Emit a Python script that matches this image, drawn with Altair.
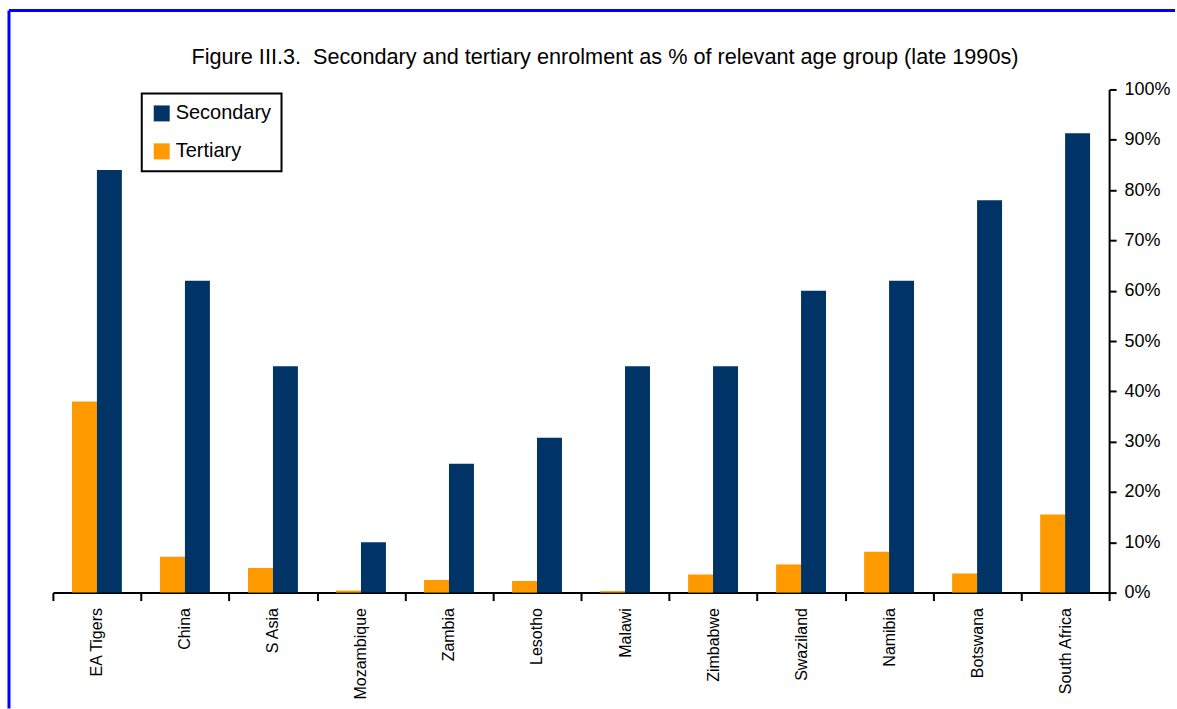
import altair as alt
import pandas as pd

categories = ["EA Tigers", "China", "S Asia", "Mozambique", "Zambia", "Lesotho",
              "Malawi", "Zimbabwe", "Swaziland", "Namibia", "Botswana", "South Africa"]
secondary = [84, 62, 45, 10, 25.6, 30.8, 45, 45, 60, 62, 78, 91.3]
tertiary = [38, 7.1, 4.9, 0.4, 2.5, 2.3, 0.3, 3.6, 5.6, 8.1, 3.8, 15.5]
series = ["Secondary", "Tertiary"]
colors = ["#003366", "#FF9900"]
title_text = "Figure III.3.\u00a0 Secondary and tertiary enrolment as % of relevant age group (late 1990s)"

rows = []
for c, s, t in zip(categories, secondary, tertiary):
    rows.append({"country": c, "series": "Tertiary", "value": t})
    rows.append({"country": c, "series": "Secondary", "value": s})
df = pd.DataFrame(rows)

FONT = "Liberation Sans"

bars = alt.Chart(df).mark_bar().encode(
    x=alt.X("country:N", sort=categories,
            scale=alt.Scale(paddingInner=0, paddingOuter=0),
            axis=alt.Axis(title=None, labelAngle=270, labelFontSize=16, labelPadding=7,
                          tickBand="extent", tickSize=8, tickWidth=2, domainWidth=2,
                          labelColor="black", labelFont=FONT)),
    xOffset=alt.XOffset("series:N", sort=["Tertiary", "Secondary"],
                        scale=alt.Scale(paddingInner=0, paddingOuter=0.764)),
    y=alt.Y("value:Q", scale=alt.Scale(domain=[0, 100], nice=False),
            axis=alt.Axis(orient="right", title=None, values=list(range(0, 101, 10)),
                          labelExpr="datum.value + '%'", labelFontSize=18, labelPadding=8,
                          tickSize=7, tickWidth=2, domainWidth=2, grid=False,
                          labelColor="black", labelFont=FONT)),
    color=alt.Color("series:N", scale=alt.Scale(domain=series, range=colors),
                    legend=alt.Legend(title=None, orient="none", legendX=89, legendY=4,
                                      direction="vertical", strokeColor="black",
                                      fillColor="white", padding=10,
                                      symbolType="square", symbolSize=256,
                                      symbolStrokeWidth=0, labelFontSize=20,
                                      labelFont=FONT, labelColor="black",
                                      labelOffset=4, rowPadding=18)),
)

one = alt.Chart(pd.DataFrame({"a": [0]}))
frame_top = one.mark_rule(color="#0000FF", strokeWidth=3).encode(
    x=alt.value(-44), x2=alt.value(1124), y=alt.value(-79))
frame_left = one.mark_rule(color="#0000FF", strokeWidth=3).encode(
    x=alt.value(-44), y=alt.value(-79), y2=alt.value(620))
title = one.mark_text(fontSize=21.7, font=FONT, color="black", align="center",
                      baseline="middle").encode(
    x=alt.value(553), y=alt.value(-32), text=alt.value(title_text))

chart = alt.layer(bars, frame_top, frame_left, title).properties(
    width=1058, height=504,
    padding={"left": 7, "top": 8, "right": 0, "bottom": 0},
).configure_view(stroke=None).configure_axis(
    domainColor="black", tickColor="black"
).configure_legend(strokeWidth=2)

chart.save("out.html", embed_options={"renderer": "svg", "actions": False})
